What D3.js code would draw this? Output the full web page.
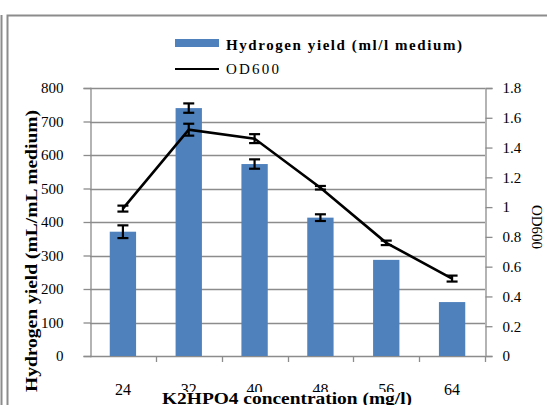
<!DOCTYPE html>
<html>
<head>
<meta charset="utf-8">
<script src="https://cdn.jsdelivr.net/npm/d3@7"></script>
<style>
  html, body { margin: 0; padding: 0; background: #fff; }
  svg { display: block; }
  text { font-family: 'Liberation Serif', 'Times New Roman', serif; fill: #000; }
</style>
</head>
<body>
<svg id="chart" width="547" height="405"></svg>
<script>
// K2HPO4 concentration levels (mg/l)
const categories = ["24", "32", "40", "48", "56", "64"];
// Hydrogen yield (mL/mL medium) with standard deviation
const hydrogenYield = [371, 740, 573, 413, 287, 161];
const hydrogenErr = [19, 14, 14, 10, 0, 0];
// Cell growth OD600 with standard deviation
const od600 = [0.99, 1.52, 1.46, 1.13, 0.76, 0.52];
const odErr = [0.02, 0.04, 0.03, 0.012, 0.015, 0.02];
// Axis ticks
const leftTicks = [0, 100, 200, 300, 400, 500, 600, 700, 800];
const rightTicks = [0, 0.2, 0.4, 0.6, 0.8, 1, 1.2, 1.4, 1.6, 1.8];

const svg = d3.select("#chart");
const plot = { left: 90, right: 485, top: 88, bottom: 356 };
const grey = "#8c8c8c";
const serif = "'Liberation Serif', 'Times New Roman', serif";

// outer frame
svg.append("rect").attr("x", 7.5).attr("y", 15.5).attr("width", 560).attr("height", 420)
  .attr("fill", "none").attr("stroke", grey).attr("stroke-width", 2);
svg.append("line").attr("x1", 1.5).attr("x2", 1.5).attr("y1", 15).attr("y2", 405)
  .attr("stroke", grey).attr("stroke-width", 2);

const xCat = d3.scaleBand().domain(categories).range([plot.left, plot.right]).padding(0);
const xBar = d3.scaleBand().domain(categories).range([plot.left, plot.right])
  .paddingInner(0.6).paddingOuter(0.3);
const y = d3.scaleLinear().domain([0, 800]).range([plot.bottom, plot.top]);
const y2 = d3.scaleLinear().domain([0, 1.8]).range([plot.bottom, plot.top]);

// horizontal gridlines
svg.append("g").selectAll("line").data(leftTicks).join("line")
  .attr("x1", plot.left).attr("x2", plot.right)
  .attr("y1", d => Math.round(y(d)) + 0.5).attr("y2", d => Math.round(y(d)) + 0.5)
  .attr("stroke", grey).attr("stroke-width", 1.3);

// left axis
const gL = svg.append("g").attr("transform", `translate(${plot.left + 0.5},0)`)
  .call(d3.axisLeft(y).tickValues(leftTicks).tickSize(7).tickPadding(20).tickFormat(d3.format("d")));
gL.select(".domain").attr("stroke", grey).attr("stroke-width", 1.3);
gL.selectAll(".tick line").attr("stroke", grey).attr("stroke-width", 1.3);
gL.selectAll(".tick text").style("font-size", "15px").style("font-family", serif);

// right axis
const gR = svg.append("g").attr("transform", `translate(${plot.right + 0.5},0)`)
  .call(d3.axisRight(y2).tickValues(rightTicks).tickSize(7).tickPadding(10).tickFormat(d => String(+d.toFixed(1))));
gR.select(".domain").attr("stroke", grey).attr("stroke-width", 1.3);
gR.selectAll(".tick line").attr("stroke", grey).attr("stroke-width", 1.3);
gR.selectAll(".tick text").style("font-size", "15px").style("font-family", serif);

// bottom category boundary ticks
const bounds = categories.map(c => xCat(c) + xCat.bandwidth());
svg.append("g").selectAll("line").data(bounds).join("line")
  .attr("x1", d => Math.round(d) + 0.5).attr("x2", d => Math.round(d) + 0.5)
  .attr("y1", plot.bottom).attr("y2", plot.bottom + 6)
  .attr("stroke", grey).attr("stroke-width", 1.3);

// category labels
const gB = svg.append("g").attr("transform", `translate(0,${plot.bottom})`)
  .call(d3.axisBottom(xCat).tickSize(0).tickPadding(28));
gB.select(".domain").remove();
gB.selectAll(".tick text").style("font-size", "16px").style("font-family", serif);

// bars
svg.append("g").selectAll("rect").data(categories).join("rect")
  .attr("x", c => xBar(c)).attr("width", xBar.bandwidth())
  .attr("y", (c, i) => y(hydrogenYield[i]))
  .attr("height", (c, i) => plot.bottom - y(hydrogenYield[i]))
  .attr("fill", "#4f81bd");

// error bars
function errorBars(values, errs, scale) {
  const g = svg.append("g").attr("stroke", "#000").attr("stroke-width", 2.2);
  categories.forEach((c, i) => {
    if (!errs[i]) return;
    const cx = xCat(c) + xCat.bandwidth() / 2;
    const y1 = scale(values[i] - errs[i]), y0 = scale(values[i] + errs[i]);
    g.append("line").attr("x1", cx).attr("x2", cx).attr("y1", y0).attr("y2", y1);
    g.append("line").attr("x1", cx - 5.5).attr("x2", cx + 5.5).attr("y1", y0).attr("y2", y0);
    g.append("line").attr("x1", cx - 5.5).attr("x2", cx + 5.5).attr("y1", y1).attr("y2", y1);
  });
}
errorBars(hydrogenYield, hydrogenErr, y);

// OD600 line
const line = d3.line()
  .x((d, i) => xCat(categories[i]) + xCat.bandwidth() / 2)
  .y(d => y2(d));
svg.append("path").datum(od600).attr("d", line)
  .attr("fill", "none").attr("stroke", "#000").attr("stroke-width", 2.6);
errorBars(od600, odErr, y2);

// legend
svg.append("rect").attr("x", 175).attr("y", 39).attr("width", 44).attr("height", 8).attr("fill", "#4f81bd");
svg.append("text").attr("x", 226).attr("y", 50).style("font-size", "15px").style("font-weight", "bold")
  .attr("textLength", 236).text("Hydrogen yield (ml/l medium)");
svg.append("line").attr("x1", 175).attr("x2", 219).attr("y1", 69).attr("y2", 69)
  .attr("stroke", "#000").attr("stroke-width", 2);
svg.append("text").attr("x", 226).attr("y", 74).style("font-size", "15px")
  .attr("textLength", 53).text("OD600");

// axis titles
svg.append("text").attr("transform", "translate(37,251) rotate(-90)")
  .attr("text-anchor", "middle").style("font-size", "17px").style("font-weight", "bold")
  .attr("textLength", 282).attr("lengthAdjust", "spacingAndGlyphs")
  .text("Hydrogen yield (mL/mL medium)");
svg.append("text").attr("transform", "translate(532,227) rotate(90)")
  .attr("text-anchor", "middle").style("font-size", "15px")
  .text("OD600");

svg.append("rect").attr("x", 160).attr("y", 392).attr("width", 254).attr("height", 13).attr("fill", "#fff");
svg.append("text").attr("x", 287).attr("y", 404).attr("text-anchor", "middle")
  .style("font-size", "17px").style("font-weight", "bold")
  .attr("textLength", 250).attr("lengthAdjust", "spacingAndGlyphs")
  .text("K2HPO4 concentration (mg/l)");
</script>
</body>
</html>
